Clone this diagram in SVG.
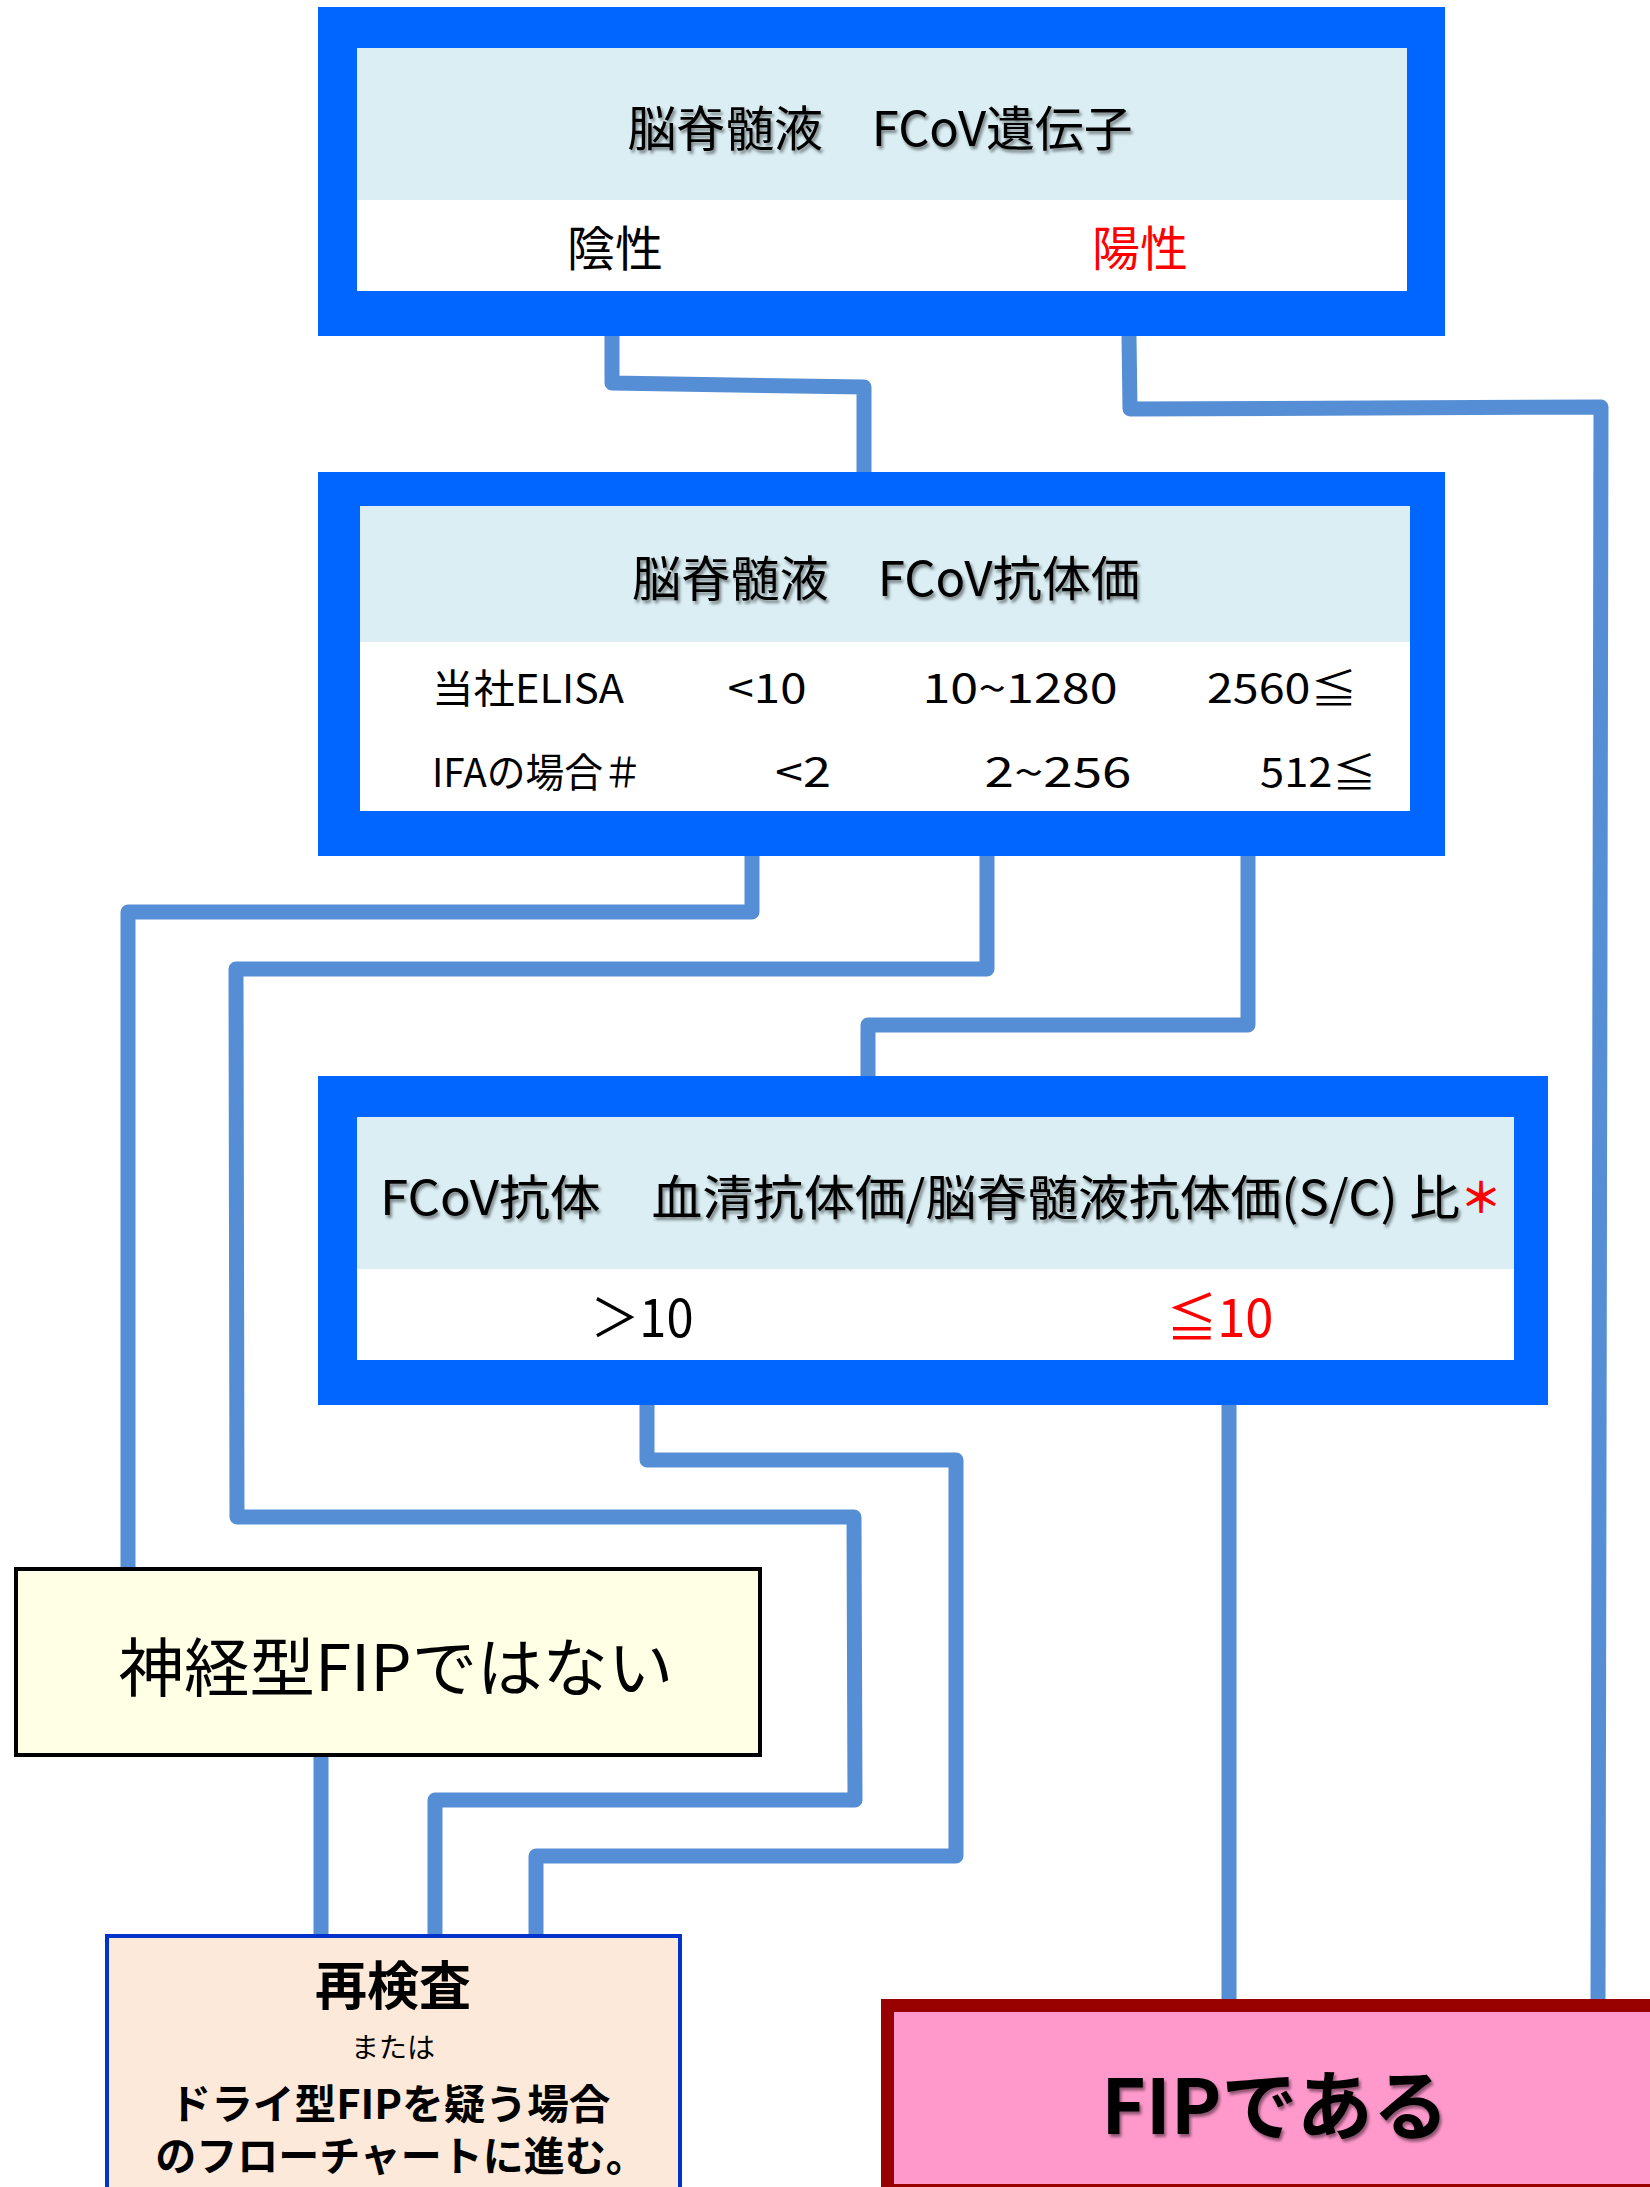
<svg xmlns="http://www.w3.org/2000/svg" width="1650" height="2187" viewBox="0 0 1650 2187">
<style>
.frame{fill:#0066FF}
.head{fill:#DAEEF3}
.body{fill:#FFFFFF}
.conn{fill:none;stroke:#558ED5;stroke-width:15;stroke-linejoin:round;stroke-linecap:butt}
.t{font-family:"Noto Sans CJK JP","Noto Sans",sans-serif;fill:#000}
.title{font-size:48px;filter:url(#sh)}
.row{font-size:40px}
.mid{text-anchor:middle}
.red{fill:#FF0000}
</style>
<defs>
<filter id="sh" x="-5%" y="-20%" width="110%" height="150%">
<feDropShadow dx="2" dy="3" stdDeviation="1.5" flood-color="#000" flood-opacity="0.45"/>
</filter>
</defs>
<rect width="1650" height="2187" fill="#FFFFFF"/>
<g id="connectors">
<path class="conn" d="M612,336 V383 L864,387 V472"/>
<path class="conn" d="M1129,336 L1130,409 L1601,407 L1598,2000"/>
<path class="conn" d="M752,856 V912 H128 V1567"/>
<path class="conn" d="M987,856 V969 H236 L237,1517 H854 L855,1800 H435 V1934"/>
<path class="conn" d="M1248,856 V1025 H868 V1076"/>
<path class="conn" d="M647,1405 V1460 H956 V1856 H536 V1934"/>
<path class="conn" d="M1229,1405 V2000"/>
<path class="conn" d="M321,1757 V1934"/>
</g>
<g id="node-gene">
<rect class="frame" x="318" y="7" width="1127" height="329"/>
<rect class="body" x="357" y="48" width="1050" height="243"/>
<rect class="head" x="357" y="48" width="1050" height="152"/>
<text class="t title mid" x="880" y="146" textLength="505" lengthAdjust="spacingAndGlyphs">脳脊髄液　FCoV遺伝子</text>
<text class="t mid" x="615" y="266" font-size="48">陰性</text>
<text class="t mid red" x="1140" y="266" font-size="48">陽性</text>
</g>
<g id="node-antibody">
<rect class="frame" x="318" y="472" width="1127" height="384"/>
<rect class="body" x="360" y="506" width="1050" height="305"/>
<rect class="head" x="360" y="506" width="1050" height="136"/>
<text class="t title mid" x="886" y="596" textLength="508" lengthAdjust="spacingAndGlyphs">脳脊髄液　FCoV抗体価</text>
<text class="t row" x="432" y="703" textLength="192" lengthAdjust="spacingAndGlyphs">当社ELISA</text>
<text class="t row mid" x="767" y="703" textLength="79" lengthAdjust="spacingAndGlyphs">&lt;10</text>
<text class="t row mid" x="1020" y="703" textLength="195" lengthAdjust="spacingAndGlyphs">10~1280</text>
<text class="t row mid" x="1282" y="703" textLength="150" lengthAdjust="spacingAndGlyphs">2560≦</text>
<text class="t row" x="432" y="787" textLength="210" lengthAdjust="spacingAndGlyphs">IFAの場合＃</text>
<text class="t row mid" x="803" y="787" textLength="56" lengthAdjust="spacingAndGlyphs">&lt;2</text>
<text class="t row mid" x="1058" y="787" textLength="147" lengthAdjust="spacingAndGlyphs">2~256</text>
<text class="t row mid" x="1318" y="787" textLength="116" lengthAdjust="spacingAndGlyphs">512≦</text>
</g>
<g id="node-ratio">
<rect class="frame" x="318" y="1076" width="1230" height="329"/>
<rect class="body" x="357" y="1117" width="1157" height="243"/>
<rect class="head" x="357" y="1117" width="1157" height="152"/>
<text class="t title mid" x="920" y="1215" textLength="1080" lengthAdjust="spacingAndGlyphs">FCoV抗体　血清抗体価/脳脊髄液抗体価(S/C) 比</text>
<text class="t mid red" x="1481" y="1213" font-size="42" font-weight="bold">＊</text>
<text class="t mid" x="642" y="1337" font-size="52" textLength="103" lengthAdjust="spacingAndGlyphs">＞10</text>
<text class="t mid red" x="1220" y="1337" font-size="52" textLength="107" lengthAdjust="spacingAndGlyphs">≦10</text>
</g>
<g id="node-not-fip">
<rect x="16" y="1569" width="744" height="186" fill="#FFFFE5" stroke="#000" stroke-width="4"/>
<text class="t mid" x="396" y="1691" font-size="64" textLength="555" lengthAdjust="spacingAndGlyphs">神経型FIPではない</text>
</g>
<g id="node-retest">
<rect x="107" y="1936" width="573" height="300" fill="#FDE9D9" stroke="#0033CC" stroke-width="4"/>
<text class="t mid" x="393" y="2005" font-size="52" font-weight="bold">再検査</text>
<text class="t mid" x="393" y="2058" font-size="28">または</text>
<text class="t mid" x="390" y="2119" font-size="41" font-weight="bold" textLength="441" lengthAdjust="spacingAndGlyphs">ドライ型FIPを疑う場合</text>
<text class="t mid" x="401" y="2171" font-size="41" font-weight="bold">のフローチャートに進む。</text>
</g>
<g id="node-fip">
<rect x="887.5" y="2005.5" width="800" height="185" fill="#FF99CC" stroke="#990000" stroke-width="13"/>
<text class="t mid" x="1275" y="2134" font-size="76" font-weight="bold" filter="url(#sh)">FIPである</text>
</g>
</svg>
